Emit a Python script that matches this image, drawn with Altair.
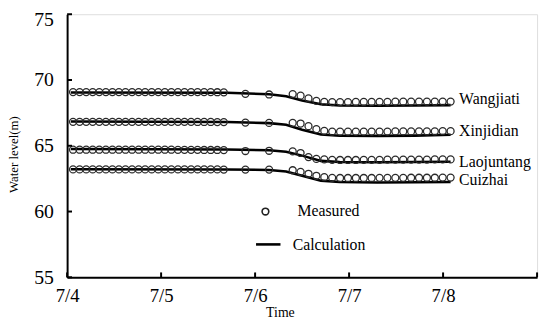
import altair as alt
import pandas as pd

# time in days after 7/4 00:00
times = [0.063, 0.133, 0.203, 0.272, 0.342, 0.412, 0.482, 0.551, 0.621, 0.691,
         0.761, 0.830, 0.900, 0.970, 1.040, 1.109, 1.179, 1.249, 1.319, 1.388,
         1.458, 1.528, 1.598, 1.667,
         1.897, 2.149,
         2.400, 2.484, 2.568, 2.652, 2.736, 2.820, 2.904, 2.988, 3.072, 3.156,
         3.240, 3.324, 3.408, 3.492, 3.576, 3.660, 3.744, 3.828, 3.912, 3.996, 4.080]

meas_wangjiati = [69.08, 69.08, 69.08, 69.08, 69.08, 69.08, 69.08, 69.08, 69.08, 69.08,
                  69.08, 69.08, 69.08, 69.08, 69.08, 69.08, 69.08, 69.08, 69.08, 69.08,
                  69.08, 69.08, 69.07, 69.06,
                  68.95, 68.90,
                  68.93, 68.81, 68.60, 68.41, 68.33, 68.32, 68.32, 68.32, 68.33, 68.33,
                  68.33, 68.34, 68.34, 68.35, 68.35, 68.35, 68.35, 68.36, 68.36, 68.36, 68.36]
meas_xinjidian = [66.82, 66.82, 66.82, 66.82, 66.82, 66.82, 66.82, 66.82, 66.82, 66.82,
                  66.82, 66.82, 66.82, 66.82, 66.82, 66.82, 66.82, 66.82, 66.82, 66.81,
                  66.81, 66.81, 66.80, 66.80,
                  66.76, 66.74,
                  66.74, 66.69, 66.49, 66.26, 66.13, 66.08, 66.07, 66.07, 66.07, 66.07,
                  66.08, 66.08, 66.08, 66.09, 66.09, 66.09, 66.10, 66.10, 66.10, 66.11, 66.11]
meas_laojuntang = [64.70, 64.70, 64.70, 64.70, 64.70, 64.70, 64.70, 64.70, 64.70, 64.70,
                   64.70, 64.70, 64.70, 64.70, 64.70, 64.70, 64.69, 64.69, 64.69, 64.69,
                   64.68, 64.68, 64.68, 64.67,
                   64.60, 64.62,
                   64.57, 64.45, 64.14, 64.00, 63.96, 63.93, 63.92, 63.92, 63.92, 63.93,
                   63.93, 63.93, 63.94, 63.94, 63.94, 63.95, 63.95, 63.95, 63.96, 63.96, 63.96]
meas_cuizhai = [63.20, 63.20, 63.20, 63.20, 63.20, 63.20, 63.20, 63.20, 63.20, 63.20,
                63.20, 63.20, 63.20, 63.20, 63.20, 63.20, 63.20, 63.20, 63.20, 63.20,
                63.20, 63.20, 63.20, 63.19,
                63.19, 63.19,
                63.14, 63.02, 62.87, 62.72, 62.61, 62.56, 62.55, 62.55, 62.55, 62.55,
                62.55, 62.56, 62.56, 62.56, 62.56, 62.57, 62.57, 62.57, 62.57, 62.58, 62.58]

calc_times = [0.04, 1.70, 2.15, 2.33, 2.50, 2.70, 2.90, 3.30, 3.70, 4.08]
calc_wangjiati = [69.05, 69.03, 68.92, 68.76, 68.45, 68.15, 68.06, 68.04, 68.06, 68.09]
calc_xinjidian = [66.85, 66.80, 66.72, 66.60, 66.22, 65.86, 65.76, 65.75, 65.77, 65.84]
calc_laojuntang = [64.75, 64.72, 64.66, 64.55, 64.25, 63.85, 63.76, 63.74, 63.76, 63.78]
calc_cuizhai = [63.22, 63.20, 63.16, 63.05, 62.72, 62.35, 62.24, 62.21, 62.22, 62.24]

stations = ["Wangjiati", "Xinjidian", "Laojuntang", "Cuizhai"]
label_t = [4.17, 4.17, 4.17, 4.17]
label_y = [68.55, 66.15, 63.78, 62.42]

x_tick_values = [0, 1, 2, 3, 4, 5]
y_tick_values = [55, 60, 65, 70, 75]

FONT = "Liberation Serif"

meas_rows = []
for name, vals in zip(stations, [meas_wangjiati, meas_xinjidian, meas_laojuntang, meas_cuizhai]):
    for t, v in zip(times, vals):
        meas_rows.append({"station": name, "t": t, "v": v})
meas_df = pd.DataFrame(meas_rows)

calc_rows = []
for name, vals in zip(stations, [calc_wangjiati, calc_xinjidian, calc_laojuntang, calc_cuizhai]):
    for t, v in zip(calc_times, vals):
        calc_rows.append({"station": name, "t": t, "v": v})
calc_df = pd.DataFrame(calc_rows)

label_df = pd.DataFrame({"station": stations, "t": label_t, "v": label_y})

xs = alt.Scale(domain=[0, 5], nice=False, zero=False)
ys = alt.Scale(domain=[55, 75], nice=False, zero=False)

x_axis = alt.Axis(values=x_tick_values, ticks=False, grid=False,
                  labelExpr="datum.value < 5 ? '7/' + (datum.value + 4) : ''",
                  labelFont=FONT, labelFontSize=19, labelColor="black", labelPadding=10,
                  labelFlush=False, labelOverlap=False,
                  domainColor="black", domainWidth=2,
                  title="Time", titleFont=FONT, titleFontSize=14, titleFontWeight="normal",
                  titleColor="black", titleX=216, titleY=36, titleAlign="center",
                  titleBaseline="middle")
y_axis = alt.Axis(values=y_tick_values, ticks=False, grid=False,
                  labelFont=FONT, labelFontSize=20, labelColor="black", labelPadding=14,
                  labelOffset={"condition": {"test": "datum.value == 75", "value": 5}, "value": 0},
                  labelFlush=False, labelOverlap=False,
                  domainColor="black", domainWidth=2,
                  title="Water level(m)", titleFont=FONT, titleFontSize=13,
                  titleFontWeight="normal", titleColor="black",
                  titleX=-54, titleY=142, titleAlign="center", titleBaseline="middle",
                  titleAngle=-90)


def X(field="t"):
    return alt.X(f"{field}:Q", scale=xs, axis=x_axis)


def Y(field="v"):
    return alt.Y(f"{field}:Q", scale=ys, axis=y_axis)


calc_layer = alt.Chart(calc_df).mark_line(color="black", strokeWidth=2.6).encode(
    x=X(), y=Y(), detail="station:N",
)

meas_layer = alt.Chart(meas_df).mark_point(shape="circle", filled=False, color="#2a2a2a",
                                           strokeWidth=1.3, size=50, opacity=1).encode(
    x=X(), y=Y(),
)

label_layer = alt.Chart(label_df).mark_text(align="left", baseline="middle", font=FONT,
                                            fontSize=16, color="black").encode(
    x=X(), y=Y(), text="station:N",
)

# inward axis ticks
xt_df = pd.DataFrame({"t": x_tick_values, "v": [55] * 6, "v2": [55.37] * 6})
yt_df = pd.DataFrame({"v": y_tick_values, "t": [0] * 5, "t2": [0.052] * 5})
xtick_layer = alt.Chart(xt_df).mark_rule(color="black", strokeWidth=2).encode(
    x=X(), y=Y(), y2="v2:Q",
)
ytick_layer = alt.Chart(yt_df).mark_rule(color="black", strokeWidth=2).encode(
    y=Y(), x=X(), x2="t2:Q",
)

# in-plot legend
leg_pt = pd.DataFrame({"t": [2.11], "v": [60.0]})
leg_ln = pd.DataFrame({"t": [2.01], "t2": [2.27], "v": [57.5]})
leg_tx = pd.DataFrame({"t": [2.45, 2.40], "v": [60.0, 57.45], "label": ["Measured", "Calculation"]})

leg_pt_layer = alt.Chart(leg_pt).mark_point(shape="circle", filled=False, color="#222222",
                                            strokeWidth=1.6, size=46, opacity=1).encode(
    x=X(), y=Y())
leg_ln_layer = alt.Chart(leg_ln).mark_rule(color="black", strokeWidth=2.6).encode(
    x=X(), x2="t2:Q", y=Y())
leg_tx_layer = alt.Chart(leg_tx).mark_text(align="left", baseline="middle", font=FONT,
                                           fontSize=16, color="black").encode(
    x=X(), y=Y(), text="label:N")

chart = alt.layer(
    calc_layer, meas_layer, label_layer, xtick_layer, ytick_layer,
    leg_pt_layer, leg_ln_layer, leg_tx_layer,
).properties(
    width=477, height=267,
    autosize=alt.AutoSizeParams(type="none"),
    padding={"left": 60, "top": 4, "right": 5, "bottom": 40},
).configure_view(stroke=None).configure(
    background="white", font=FONT
).configure_axis(labelFont=FONT, titleFont=FONT).configure_text(font=FONT)

chart.save("out.html", embed_options={"renderer": "svg", "actions": False})
